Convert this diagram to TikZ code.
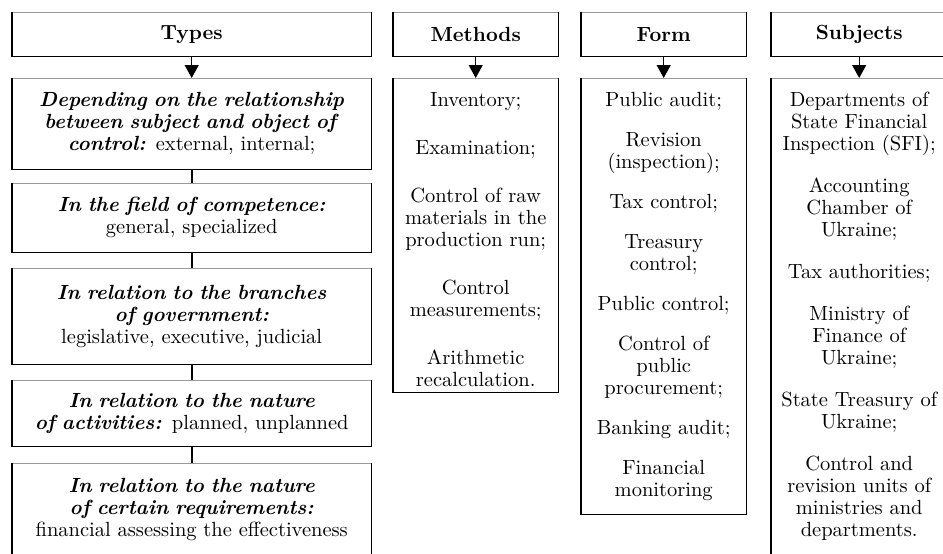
\documentclass[tikz,border=0pt]{standalone}
\usepackage{fontspec}
\setmainfont{lmroman10}[Extension=.otf, UprightFont=*-regular, BoldFont=*-bold, ItalicFont=*-italic, BoldItalicFont=*-bolditalic]
\usetikzlibrary{arrows.meta}
\newcommand\fsz{\fontsize{20.5}{22}\selectfont}
\newcommand\bi[1]{\textbf{\textit{#1}}}
\tikzset{
  fr/.style={inner sep=0pt, anchor=north west, align=center, font=\fsz},
  hd/.style={fr, font=\fsz\bfseries},
  coltext/.style={inner sep=0pt, anchor=north, align=center, font=\fsz},
  topedge/.style={draw=black!40, line width=0.7pt},
  sideedge/.style={draw=black, line width=1.6pt},
  botedge/.style={draw=black, line width=1.1pt},
  arr/.style={line width=1.3pt, -{Triangle[length=13pt,width=14pt]}},
  link/.style={line width=1.6pt},
}
\newcommand\frameit[1]{%
  \draw[topedge] (#1.north west) -- (#1.north east);
  \draw[botedge] (#1.south west) -- (#1.south east);
  \draw[sideedge] ([yshift=0.4pt]#1.north west) -- ([yshift=-0.5pt]#1.south west);
  \draw[sideedge] ([yshift=0.4pt]#1.north east) -- ([yshift=-0.5pt]#1.south east);}
\begin{document}
\begin{tikzpicture}[x=1pt,y=-1pt]
\useasboundingbox (0,0) rectangle (943,554);
\clip (0,0) rectangle (943,554);
% headers
\node[hd, minimum width=359pt, text width=351pt, minimum height=44pt] (th) at (12,12) {Types};
\node[hd, minimum width=165pt, text width=157pt, minimum height=44pt] (mh) at (393,12) {Methods};
\node[hd, minimum width=165pt, text width=157pt, minimum height=44pt] (fh) at (581,12) {Form};
\node[hd, minimum width=176pt, text width=168pt, minimum height=44pt] (sh) at (771,12) {Subjects};
% types boxes
\node[fr, minimum width=359pt, text width=351pt, minimum height=91pt] (t1) at (12,78)
  {\bi{Depending on the relationship}\\ \bi{between subject and object of}\\ \bi{control:} external, internal;};
\node[fr, minimum width=359pt, text width=351pt, minimum height=69pt] (t2) at (12,183)
  {\bi{In the field of competence:}\\ general, specialized};
\node[fr, minimum width=359pt, text width=351pt, minimum height=96pt] (t3) at (12,268)
  {\bi{In relation to the branches}\\ \bi{of government:}\\ legislative, executive, judicial};
\node[fr, minimum width=359pt, text width=351pt, minimum height=66pt] (t4) at (12,380)
  {\bi{In relation to the nature}\\ \bi{of activities:} planned, unplanned};
\node[fr, minimum width=359pt, text width=351pt, minimum height=92pt] (t5) at (12,463)
  {\bi{In relation to the nature}\\ \bi{of certain requirements:}\\ financial assessing the effectiveness};
% column boxes
\node[fr, minimum width=165pt, text width=157pt, minimum height=314pt] (mb) at (393,78) {};
\node[fr, minimum width=165pt, text width=157pt, minimum height=436pt] (fb) at (581,78) {};
\node[fr, minimum width=176pt, text width=168pt, minimum height=490pt] (sb) at (771,78) {};
\node[coltext, text width=160pt] (mt) at ([yshift=-14pt]mb.north)
  {Inventory;\\[26pt] Examination;\\[26pt] Control of raw\\ materials in the\\ production run;\\[26pt]
   Control\\ measurements;\\[26pt] Arithmetic\\ recalculation.};
\node[coltext, text width=160pt] (ft) at ([yshift=-14pt]fb.north)
  {Public audit;\\[18pt] Revision\\ (inspection);\\[18pt] Tax control;\\[18pt] Treasury\\ control;\\[18pt]
   Public control;\\[18pt] Control of\\ public\\ procurement;\\[18pt] Banking audit;\\[18pt] Financial\\ monitoring};
\node[coltext, text width=172pt] (st) at ([yshift=-14pt]sb.north)
  {Departments of\\ State Financial\\ Inspection (SFI);\\[20pt] Accounting\\ Chamber of\\ Ukraine;\\[20pt]
   Tax authorities;\\[20pt] Ministry of\\ Finance of\\ Ukraine;\\[20pt] State Treasury of\\ Ukraine;\\[20pt]
   Control and\\ revision units of\\ ministries and\\ departments.};
% frames
\foreach \n in {th,mh,fh,sh,t1,t2,t3,t4,t5,mb,fb,sb} {\frameit{\n}}
% connectors
\draw[arr] (th.south) -- (t1.north);
\draw[arr] (mh.south) -- (mb.north);
\draw[arr] (fh.south) -- (fb.north);
\draw[arr] (sh.south) -- (sb.north);
\draw[link] (t1.south) -- (t2.north);
\draw[link] (t2.south) -- (t3.north);
\draw[link] (t3.south) -- (t4.north);
\draw[link] (t4.south) -- (t5.north);
\end{tikzpicture}
\end{document}
